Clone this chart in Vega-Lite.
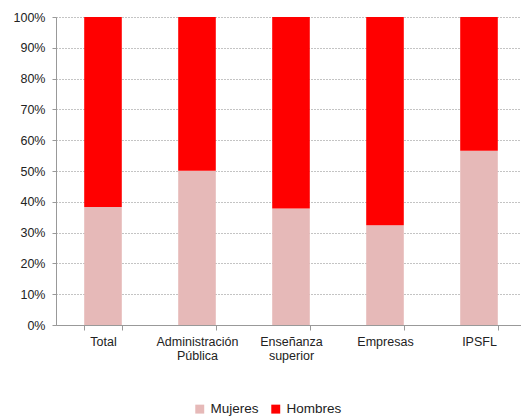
{
  "$schema": "https://vega.github.io/schema/vega-lite/v6.json",
  "width": 470,
  "height": 308,
  "autosize": {"type": "none"},
  "padding": {"left": 56, "top": 17, "right": 0, "bottom": 94},
  "background": "white",
  "data": {
    "values": [
      {"sector": "Total", "sexo": "Mujeres", "valor": 38.3, "o": 1},
      {"sector": "Total", "sexo": "Hombres", "valor": 61.7, "o": 2},
      {"sector": "Administración Pública", "sexo": "Mujeres", "valor": 50.1, "o": 1},
      {"sector": "Administración Pública", "sexo": "Hombres", "valor": 49.9, "o": 2},
      {"sector": "Enseñanza superior", "sexo": "Mujeres", "valor": 37.8, "o": 1},
      {"sector": "Enseñanza superior", "sexo": "Hombres", "valor": 62.2, "o": 2},
      {"sector": "Empresas", "sexo": "Mujeres", "valor": 32.4, "o": 1},
      {"sector": "Empresas", "sexo": "Hombres", "valor": 67.6, "o": 2},
      {"sector": "IPSFL", "sexo": "Mujeres", "valor": 56.6, "o": 1},
      {"sector": "IPSFL", "sexo": "Hombres", "valor": 43.4, "o": 2}
    ]
  },
  "mark": {"type": "bar"},
  "encoding": {
    "x": {
      "field": "sector",
      "type": "nominal",
      "sort": null,
      "scale": {"paddingInner": 0.6, "paddingOuter": 0.3},
      "axis": {
        "title": null,
        "labelAngle": 0,
        "labelExpr": "datum.value ? split(datum.value, ' ') : ''",
        "labelFont": "Liberation Sans",
        "labelFontSize": 12.5,
        "labelColor": "#222",
        "labelPadding": 5,
        "labelLineHeight": 14,
        "tickBand": "extent",
        "tickColor": "#999",
        "tickSize": 5,
        "domainColor": "#999",
        "grid": false
      }
    },
    "y": {
      "field": "valor",
      "type": "quantitative",
      "stack": "normalize",
      "scale": {"domain": [0, 1], "nice": false},
      "axis": {
        "title": null,
        "format": ".0%",
        "values": [0, 0.1, 0.2, 0.3, 0.4, 0.5, 0.6, 0.7, 0.8, 0.9, 1],
        "labelFont": "Liberation Sans",
        "labelFontSize": 12.5,
        "labelColor": "#222",
        "labelPadding": 7,
        "tickColor": "#999",
        "tickSize": 4,
        "domainColor": "#999",
        "grid": true,
        "gridColor": "#888",
        "gridDash": [1, 2],
        "gridWidth": 1
      }
    },
    "color": {
      "field": "sexo",
      "type": "nominal",
      "scale": {"domain": ["Mujeres", "Hombres"], "range": ["#e6b9b8", "#ff0000"]},
      "legend": {
        "title": null,
        "orient": "none",
        "legendX": 137,
        "legendY": 385,
        "direction": "horizontal",
        "symbolType": "square",
        "symbolSize": 80,
        "symbolStrokeWidth": 0,
        "labelFont": "Liberation Sans",
        "labelFontSize": 13.5,
        "labelColor": "#222",
        "columnPadding": 10
      }
    },
    "order": {"field": "o", "type": "quantitative"}
  },
  "config": {"view": {"stroke": null}}
}
